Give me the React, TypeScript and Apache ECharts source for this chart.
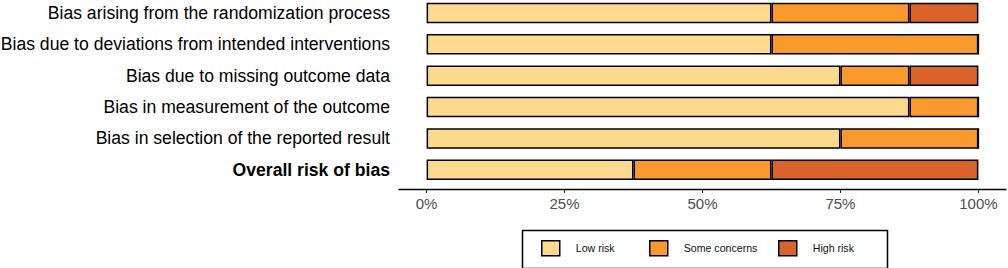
import React, { useEffect, useRef } from "react";
import * as echarts from "echarts";

// Risk-of-bias domains, top to bottom
const domains = [
  "Bias arising from the randomization process",
  "Bias due to deviations from intended interventions",
  "Bias due to missing outcome data",
  "Bias in measurement of the outcome",
  "Bias in selection of the reported result",
  "Overall risk of bias",
];

// Percentage of studies per judgement, one entry per domain
const lowRisk = [62.5, 62.5, 75, 87.5, 75, 37.5];
const someConcerns = [25, 37.5, 12.5, 12.5, 25, 25];
const highRisk = [12.5, 0, 12.5, 0, 0, 37.5];

const xTicks = [0, 25, 50, 75, 100];

const judgements = [
  { name: "Low risk", data: lowRisk, color: "#fed98e", legendLeft: 541 },
  { name: "Some concerns", data: someConcerns, color: "#f9992e", legendLeft: 649 },
  { name: "High risk", data: highRisk, color: "#d9632a", legendLeft: 778 },
];

export default function App() {
  const ref = useRef<HTMLDivElement>(null);

  useEffect(() => {
    if (!ref.current) return;
    const chart = echarts.init(ref.current, null, { renderer: "svg" });
    const font = "'Liberation Sans', Arial, Helvetica, sans-serif";

    chart.setOption({
      animation: false,
      textStyle: { fontFamily: font },
      grid: {
        left: 399,
        right: 2,
        top: -2.7,
        bottom: 82.5,
        containLabel: false,
        outerBoundsMode: "none",
      },
      xAxis: {
        type: "value",
        min: -5,
        max: 105,
        offset: 3.5,
        splitLine: { show: false },
        axisLine: { show: true, lineStyle: { color: "#000", width: 1.3 } },
        axisTick: {
          show: true,
          length: 4,
          customValues: xTicks,
          lineStyle: { color: "#222", width: 1.1 },
        },
        axisLabel: {
          customValues: xTicks,
          formatter: (v: number) => `${v}%`,
          color: "#4d4d4d",
          fontSize: 15,
          fontFamily: font,
          margin: 7,
        },
      },
      yAxis: {
        type: "category",
        inverse: true,
        data: domains,
        axisLine: { show: false },
        axisTick: { show: false },
        axisLabel: {
          color: "#000",
          fontSize: 17.6,
          fontFamily: font,
          margin: 9,
          formatter: (v: string) =>
            v === "Overall risk of bias" ? `{b|${v}}` : v,
          rich: {
            b: { fontWeight: "bold", fontSize: 17.6, fontFamily: font, color: "#000" },
          },
        },
      },
      // one legend per judgement so each key sits at its own spot inside the box
      legend: judgements.map((j) => ({
        left: j.legendLeft,
        top: 240,
        padding: 0,
        itemWidth: 18,
        itemHeight: 15,
        icon: "rect",
        itemStyle: { borderColor: "#000", borderWidth: 1.5 },
        textStyle: {
          color: "#111",
          fontSize: 10.6,
          fontFamily: font,
          padding: [0, 0, 0, 11],
        },
        data: [j.name],
        selectedMode: false,
      })),
      graphic: [
        {
          type: "rect",
          left: 520,
          top: 228,
          shape: { width: 365, height: 38 },
          style: { fill: "none", stroke: "#000", lineWidth: 1.5 },
          silent: true,
        },
      ],
      series: judgements.map((j) => ({
        name: j.name,
        type: "bar",
        stack: "total",
        data: j.data,
        barWidth: 20.5,
        silent: true,
        itemStyle: { color: j.color, borderColor: "#000", borderWidth: 1.5 },
      })),
    });

    return () => chart.dispose();
  }, []);

  return (
    <div
      ref={ref}
      style={{ position: "fixed", left: 0, top: 0, width: 1008, height: 268, background: "#fff" }}
    />
  );
}
